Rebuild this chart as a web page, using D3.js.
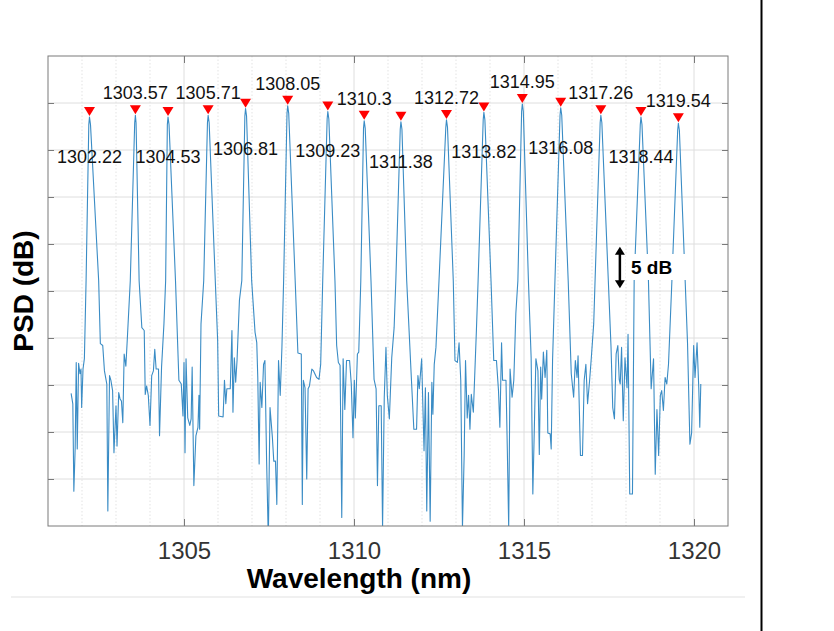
<!DOCTYPE html>
<html>
<head>
<meta charset="utf-8">
<script src="https://cdn.jsdelivr.net/npm/d3@7"></script>
<style>
  body { margin: 0; background: #fff; }
  svg { display: block; font-family: "Liberation Sans", Arial, sans-serif; }
</style>
</head>
<body>
<script>
// peaks found on the spectrum (nm, dB)
const peakWl = [1302.22, 1303.57, 1304.53, 1305.71, 1306.81, 1308.05, 1309.23, 1310.3,
                1311.38, 1312.72, 1313.82, 1314.95, 1316.08, 1317.26, 1318.44, 1319.54];
const peakDb = [-6.5, -6.3, -6.5, -6.3, -5.6, -5.3, -5.9, -6.9,
                -7.0, -6.8, -6.0, -5.1, -5.5, -6.3, -6.5, -7.15];

const xTicks = [1305, 1310, 1315, 1320];
const xMinor = [1302, 1303, 1304, 1306, 1307, 1308, 1309, 1311, 1312, 1313, 1314, 1316, 1317, 1318, 1319];
const yTicks = [-45, -40, -35, -30, -25, -20, -15, -10, -5];

// measured PSD trace, [wavelength nm, dB]
const spectrum = [
  [1301.68,-35.9],[1301.73,-37.0],[1301.76,-46.3],[1301.80,-41.6],[1301.83,-32.6],[1301.86,-41.8],
  [1301.90,-32.7],[1301.94,-33.8],[1301.97,-33.3],[1301.99,-37.4],[1302.03,-33.3],[1302.07,-32.2],
  [1302.12,-23.9],[1302.20,-7.3],[1302.22,-6.5],[1302.25,-7.3],[1302.49,-23.9],
  [1302.54,-30.6],[1302.61,-30.8],[1302.66,-33.5],[1302.73,-34.9],[1302.76,-48.4],[1302.81,-34.0],
  [1302.85,-34.5],[1302.90,-35.6],[1302.94,-42.2],[1303.00,-37.2],[1303.03,-41.5],[1303.08,-35.8],
  [1303.12,-36.5],[1303.16,-36.7],[1303.20,-39.0],[1303.24,-31.7],[1303.29,-33.0],[1303.34,-29.6],
  [1303.42,-23.9],[1303.55,-7.1],[1303.57,-6.3],[1303.59,-7.1],[1303.68,-23.9],
  [1303.76,-28.9],[1303.83,-29.2],[1303.86,-36.0],[1303.90,-35.1],[1303.95,-36.1],[1304.00,-39.3],
  [1304.05,-34.0],[1304.10,-33.5],[1304.14,-31.2],[1304.18,-33.3],[1304.25,-33.3],[1304.28,-40.4],
  [1304.34,-33.1],[1304.41,-28.5],[1304.46,-23.9],[1304.51,-7.3],[1304.53,-6.5],[1304.56,-7.3],
  [1304.75,-23.9],[1304.85,-34.5],[1304.92,-34.9],[1304.97,-38.3],[1305.00,-32.6],[1305.03,-42.2],
  [1305.06,-32.2],[1305.11,-38.5],[1305.17,-39.3],[1305.21,-38.6],[1305.24,-33.1],[1305.29,-45.7],
  [1305.35,-40.4],[1305.41,-39.5],[1305.44,-36.1],[1305.46,-39.7],[1305.50,-28.5],[1305.58,-23.9],
  [1305.69,-7.1],[1305.71,-6.3],[1305.74,-7.1],[1305.92,-23.9],
  [1305.99,-30.3],[1306.02,-38.3],[1306.15,-38.4],[1306.19,-34.5],[1306.23,-37.0],[1306.26,-35.4],
  [1306.36,-35.4],[1306.41,-29.2],[1306.44,-37.9],[1306.48,-32.1],[1306.52,-34.7],[1306.56,-32.4],
  [1306.63,-26.0],[1306.70,-23.9],[1306.79,-6.4],[1306.81,-5.6],[1306.84,-6.4],[1306.99,-23.9],
  [1307.09,-29.4],[1307.14,-30.5],[1307.17,-34.2],[1307.21,-43.4],[1307.24,-34.7],[1307.29,-37.4],
  [1307.34,-32.8],[1307.38,-32.4],[1307.43,-43.1],[1307.48,-51.5],[1307.53,-37.4],[1307.60,-40.6],
  [1307.64,-43.1],[1307.69,-43.1],[1307.73,-47.7],[1307.78,-32.4],[1307.83,-36.1],[1307.88,-31.0],
  [1307.93,-23.9],[1308.03,-6.1],[1308.05,-5.3],[1308.08,-6.1],[1308.27,-23.9],
  [1308.35,-31.6],[1308.45,-31.7],[1308.48,-47.7],[1308.51,-34.5],[1308.56,-35.3],[1308.61,-45.0],
  [1308.65,-35.4],[1308.69,-35.1],[1308.76,-33.3],[1308.81,-33.5],[1308.90,-34.2],[1308.97,-34.4],
  [1309.02,-32.8],[1309.08,-23.9],[1309.21,-6.7],[1309.23,-5.9],[1309.26,-6.7],[1309.44,-23.9],
  [1309.49,-30.8],[1309.54,-32.6],[1309.59,-32.9],[1309.64,-49.1],[1309.68,-32.2],[1309.73,-37.6],
  [1309.78,-32.4],[1309.87,-32.4],[1309.92,-34.9],[1309.97,-40.6],[1310.01,-34.5],[1310.04,-38.5],
  [1310.10,-31.7],[1310.14,-31.5],[1310.20,-23.9],[1310.28,-7.7],[1310.30,-6.9],[1310.33,-7.7],
  [1310.50,-23.9],[1310.59,-34.4],[1310.65,-35.4],[1310.69,-45.7],[1310.73,-37.2],[1310.80,-37.2],
  [1310.84,-50.2],[1310.89,-36.3],[1310.94,-31.0],[1310.98,-36.1],[1311.04,-38.6],[1311.11,-32.1],
  [1311.18,-28.9],[1311.23,-23.9],[1311.36,-7.8],[1311.38,-7.0],[1311.41,-7.8],[1311.55,-23.9],
  [1311.69,-34.5],[1311.76,-39.7],[1311.84,-39.7],[1311.88,-34.0],[1311.92,-35.4],[1311.99,-32.2],
  [1312.06,-42.0],[1312.10,-35.3],[1312.14,-48.4],[1312.19,-35.8],[1312.24,-49.5],[1312.29,-34.7],
  [1312.32,-38.1],[1312.36,-32.8],[1312.41,-31.0],[1312.50,-23.9],[1312.70,-7.6],[1312.72,-6.8],
  [1312.75,-7.6],[1312.92,-23.9],
  [1312.97,-32.4],[1313.04,-32.6],[1313.09,-30.5],[1313.14,-34.5],[1313.19,-50.2],[1313.24,-42.5],
  [1313.28,-32.4],[1313.33,-38.5],[1313.37,-36.1],[1313.41,-39.7],[1313.45,-36.0],[1313.51,-37.9],
  [1313.60,-29.2],[1313.65,-23.9],[1313.80,-6.8],[1313.82,-6.0],[1313.85,-6.8],[1314.03,-23.9],
  [1314.11,-32.4],[1314.19,-32.4],[1314.25,-35.6],[1314.29,-39.5],[1314.34,-30.5],[1314.37,-34.5],
  [1314.47,-34.5],[1314.51,-42.0],[1314.55,-50.2],[1314.59,-33.3],[1314.65,-36.3],[1314.70,-34.5],
  [1314.76,-27.4],[1314.82,-23.9],[1314.93,-5.9],[1314.95,-5.1],[1314.98,-5.9],[1315.13,-23.9],
  [1315.21,-32.1],[1315.26,-46.6],[1315.30,-40.2],[1315.35,-32.2],[1315.41,-33.5],[1315.45,-42.4],
  [1315.49,-33.1],[1315.52,-36.5],[1315.57,-31.5],[1315.62,-34.2],[1315.67,-31.3],[1315.70,-40.1],
  [1315.77,-40.2],[1315.80,-41.8],[1315.84,-32.4],[1315.91,-23.9],[1316.06,-6.3],[1316.08,-5.5],
  [1316.11,-6.3],[1316.30,-23.9],
  [1316.39,-33.8],[1316.46,-36.3],[1316.51,-32.4],[1316.56,-34.2],[1316.59,-31.9],[1316.66,-42.5],
  [1316.72,-42.5],[1316.77,-34.5],[1316.82,-32.8],[1316.87,-37.0],[1316.93,-34.5],[1316.98,-32.1],
  [1317.05,-28.5],[1317.09,-23.9],[1317.24,-7.1],[1317.26,-6.3],[1317.29,-7.1],[1317.48,-23.9],
  [1317.56,-31.0],[1317.61,-37.4],[1317.66,-38.6],[1317.71,-31.7],[1317.76,-30.8],[1317.80,-34.4],
  [1317.83,-34.9],[1317.87,-31.0],[1317.92,-38.8],[1317.97,-32.1],[1318.03,-35.3],[1318.06,-29.6],
  [1318.11,-46.6],[1318.19,-46.6],[1318.24,-23.9],[1318.42,-7.3],[1318.44,-6.5],[1318.47,-7.3],
  [1318.66,-23.9],[1318.74,-35.4],[1318.81,-32.2],[1318.86,-44.5],[1318.91,-37.6],[1318.96,-42.5],
  [1319.01,-36.1],[1319.05,-35.6],[1319.10,-37.7],[1319.15,-34.2],[1319.20,-34.9],[1319.25,-32.8],
  [1319.35,-23.9],[1319.52,-7.9],[1319.54,-7.15],[1319.57,-7.9],[1319.74,-23.9],
  [1319.81,-30.6],[1319.88,-41.3],[1319.93,-40.1],[1319.99,-30.8],[1320.03,-34.2],[1320.09,-30.5],
  [1320.14,-35.3],[1320.17,-39.5],[1320.20,-34.9]
];

const W = 834, H = 631;
const mLeft = 48, mRight = 728, mTop = 56, mBottom = 526;

const svg = d3.select("body").append("svg")
  .attr("width", W)
  .attr("height", H);

const x = d3.scaleLinear().domain([1301, 1321]).range([mLeft, mRight]);
const y = d3.scaleLinear().domain([-50, 0]).range([mBottom, mTop]);

// frame lines outside the plot
svg.append("line")
  .attr("x1", 11).attr("x2", 745).attr("y1", 597).attr("y2", 597)
  .attr("stroke", "#ebebeb").attr("stroke-width", 1.5);
svg.append("line")
  .attr("x1", 761.5).attr("x2", 761.5).attr("y1", 0).attr("y2", H)
  .attr("stroke", "#000").attr("stroke-width", 2);

// grid
const grid = svg.append("g");
grid.selectAll(".minor").data(xMinor).enter().append("line")
  .attr("x1", d => x(d)).attr("x2", d => x(d))
  .attr("y1", mTop).attr("y2", mBottom)
  .attr("stroke", "#dcdcdc").attr("stroke-width", 0.8)
  .attr("stroke-dasharray", "1.5,2");
grid.selectAll(".majorx").data(xTicks).enter().append("line")
  .attr("x1", d => x(d)).attr("x2", d => x(d))
  .attr("y1", mTop).attr("y2", mBottom)
  .attr("stroke", "#dedede").attr("stroke-width", 1);
grid.selectAll(".majory").data(yTicks).enter().append("line")
  .attr("x1", mLeft).attr("x2", mRight)
  .attr("y1", d => y(d)).attr("y2", d => y(d))
  .attr("stroke", "#dedede").attr("stroke-width", 1);

// spectrum
svg.append("clipPath").attr("id", "plotclip")
  .append("rect")
  .attr("x", mLeft).attr("y", mTop)
  .attr("width", mRight - mLeft).attr("height", mBottom - mTop);

const line = d3.line()
  .x(d => x(d[0]))
  .y(d => y(d[1]));

svg.append("path")
  .datum(spectrum)
  .attr("clip-path", "url(#plotclip)")
  .attr("d", line)
  .attr("fill", "none")
  .attr("stroke", "#3a8cc5")
  .attr("stroke-width", 1.1)
  .attr("stroke-linejoin", "round");

// axes box with inward ticks
const axisColor = "#7a7a7a";
svg.append("rect")
  .attr("x", mLeft).attr("y", mTop)
  .attr("width", mRight - mLeft).attr("height", mBottom - mTop)
  .attr("fill", "none").attr("stroke", axisColor).attr("stroke-width", 1);

const xAxisB = d3.axisBottom(x).tickValues(xTicks).tickSize(-7).tickFormat(d => d);
const gxb = svg.append("g").attr("transform", `translate(0,${mBottom})`).call(xAxisB);
gxb.select(".domain").remove();
gxb.selectAll(".tick line").attr("stroke", axisColor);
gxb.selectAll(".tick text")
  .attr("y", 0).attr("dy", 0)
  .attr("transform", "translate(0,33)")
  .attr("fill", "#333")
  .style("font-size", "24px")
  .style("font-family", "'Liberation Sans', Arial, sans-serif");

const xAxisT = d3.axisTop(x).tickValues(xTicks).tickSize(-7).tickFormat("");
const gxt = svg.append("g").attr("transform", `translate(0,${mTop})`).call(xAxisT);
gxt.select(".domain").remove();
gxt.selectAll(".tick line").attr("stroke", axisColor);

const yAxisL = d3.axisLeft(y).tickValues(yTicks).tickSize(-6).tickFormat("");
const gyl = svg.append("g").attr("transform", `translate(${mLeft},0)`).call(yAxisL);
gyl.select(".domain").remove();
gyl.selectAll(".tick line").attr("stroke", axisColor);

const yAxisR = d3.axisRight(y).tickValues(yTicks).tickSize(-6).tickFormat("");
const gyr = svg.append("g").attr("transform", `translate(${mRight},0)`).call(yAxisR);
gyr.select(".domain").remove();
gyr.selectAll(".tick line").attr("stroke", axisColor);

// peak markers and labels
const peaks = peakWl.map((w, i) => ({ w: w, db: peakDb[i], above: i % 2 === 1 }));

svg.selectAll(".marker").data(peaks).enter().append("path")
  .attr("d", d => {
    const px = x(d.w), py = y(d.db) - 1;
    return `M${px - 5.5},${py - 9}L${px + 5.5},${py - 9}L${px},${py}Z`;
  })
  .attr("fill", "#ff0000");

svg.selectAll(".plabel").data(peaks).enter().append("text")
  .attr("x", d => x(d.w))
  .attr("y", d => d.above ? y(d.db) - 16 : y(d.db) + 46)
  .attr("text-anchor", "middle")
  .style("font-size", "18px")
  .attr("fill", "#111")
  .text(d => d.w);

// 5 dB scale annotation
const arrowX = x(1317.82);
const aTop = y(-20.3), aBot = y(-24.7);
svg.append("rect")
  .attr("x", 626).attr("y", 254).attr("width", 64).attr("height", 26)
  .attr("fill", "#fff");
svg.append("line")
  .attr("x1", arrowX).attr("x2", arrowX)
  .attr("y1", aTop + 6).attr("y2", aBot - 6)
  .attr("stroke", "#000").attr("stroke-width", 2.5);
svg.append("path")
  .attr("d", `M${arrowX},${aTop}L${arrowX - 5},${aTop + 8}L${arrowX + 5},${aTop + 8}Z`)
  .attr("fill", "#000");
svg.append("path")
  .attr("d", `M${arrowX},${aBot}L${arrowX - 5},${aBot - 8}L${arrowX + 5},${aBot - 8}Z`)
  .attr("fill", "#000");
svg.append("text")
  .attr("x", 631).attr("y", 274)
  .style("font-size", "19px").style("font-weight", "bold")
  .text("5 dB");

// axis titles
svg.append("text")
  .attr("x", 359).attr("y", 588)
  .attr("text-anchor", "middle")
  .style("font-size", "28px").style("font-weight", "bold")
  .text("Wavelength (nm)");

svg.append("text")
  .attr("transform", `translate(33,${(mTop + mBottom) / 2}) rotate(-90)`)
  .attr("text-anchor", "middle")
  .style("font-size", "28px").style("font-weight", "bold")
  .text("PSD (dB)");
</script>
</body>
</html>
